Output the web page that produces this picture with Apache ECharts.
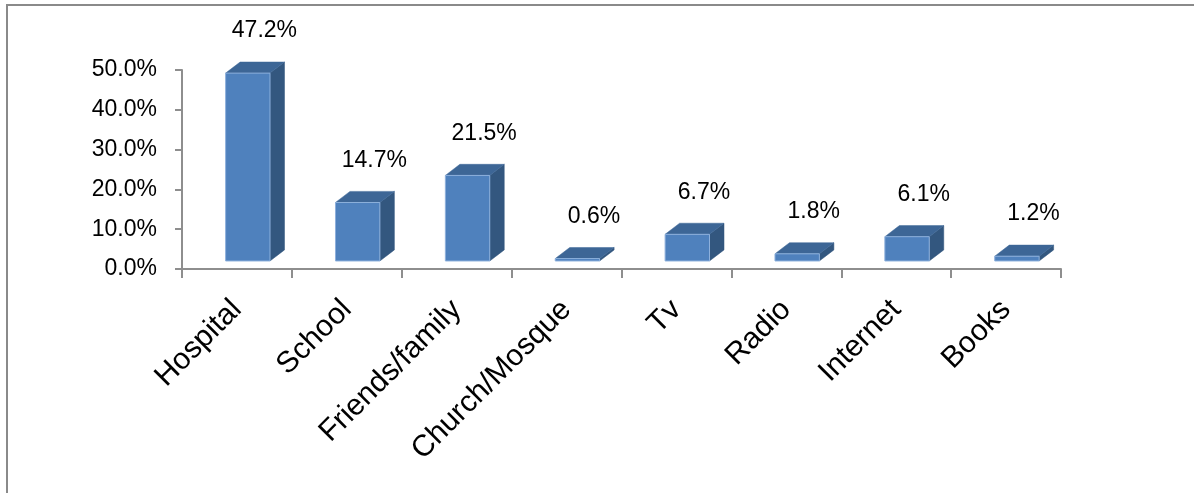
<!DOCTYPE html>
<html>
<head>
<meta charset="utf-8">
<script src="https://cdn.jsdelivr.net/npm/echarts@6/dist/echarts.min.js"></script>
<style>
  html, body { margin: 0; padding: 0; background: #ffffff; }
  #chart { width: 1194px; height: 493px; }
</style>
</head>
<body>
<div id="chart"></div>
<script>
// Sources of information (share of respondents, %)
const categories = ['Hospital', 'School', 'Friends/family', 'Church/Mosque', 'Tv', 'Radio', 'Internet', 'Books'];
const shares = [47.2, 14.7, 21.5, 0.6, 6.7, 1.8, 6.1, 1.2];

const FRONT = '#4F81BD';
const TOP = '#3D6696';
const SIDE = '#33577F';
const EDGE = '#8DB0DC';
const FONT = '"Liberation Sans", Arial, sans-serif';

const pct = v => v.toFixed(1) + '%';

// Draws one bar as a box: front face, top face and right side face,
// set back a little from the axis plane, plus its value label.
function renderBox(params, api) {
  const idx = api.value(0);
  const v = api.value(1);
  const base = api.coord([idx, 0]);
  const head = api.coord([idx, v]);
  const band = api.size([1, 0])[0];

  const fw = band * 0.404;
  const cx = base[0] + band * 0.099;
  const lift = band * 0.073;
  const dx = band * 0.132;
  const dy = band * 0.101;

  const x0 = cx - fw / 2;
  const x1 = cx + fw / 2;
  const yb = base[1] - lift;
  const yt = head[1] - lift;

  return {
    type: 'group',
    children: [
      {
        type: 'polygon',
        shape: { points: [[x1, yt], [x1 + dx, yt - dy], [x1 + dx, yb - dy], [x1, yb]] },
        style: { fill: SIDE, stroke: SIDE, lineWidth: 0.5 }
      },
      {
        type: 'polygon',
        shape: { points: [[x0, yt], [x1, yt], [x1 + dx, yt - dy], [x0 + dx, yt - dy]] },
        style: { fill: TOP, stroke: TOP, lineWidth: 0.5 }
      },
      {
        type: 'rect',
        shape: { x: x0, y: yt, width: fw, height: Math.max(yb - yt, 0.5) },
        style: { fill: FRONT, stroke: EDGE, lineWidth: 1 }
      },
      {
        type: 'text',
        style: {
          text: pct(v),
          x: base[0] + band * 0.25,
          y: yt - dy - 31,
          align: 'center',
          verticalAlign: 'middle',
          font: '23px ' + FONT,
          fill: '#000000'
        }
      }
    ]
  };
}

const chart = echarts.init(document.getElementById('chart'), null, { renderer: 'canvas' });

chart.setOption({
  backgroundColor: '#ffffff',
  animation: false,
  graphic: [
    {
      type: 'rect',
      shape: { x: 7, y: 5, width: 1220, height: 520 },
      style: { fill: 'none', stroke: '#8a8a8a', lineWidth: 2 },
      silent: true
    }
  ],
  grid: { left: 182, right: 133, top: 70, bottom: 224 },
  xAxis: {
    type: 'category',
    data: categories,
    boundaryGap: true,
    axisLine: { lineStyle: { color: '#8e8e8e', width: 2 } },
    axisTick: { show: true, length: 9, lineStyle: { color: '#8e8e8e', width: 2 } },
    axisLabel: {
      interval: 0,
      rotate: 45,
      margin: 36,
      color: '#000000',
      fontSize: 30,
      fontFamily: FONT
    }
  },
  yAxis: {
    type: 'value',
    min: 0,
    max: 50,
    interval: 10,
    splitLine: { show: false },
    axisLine: { show: true, lineStyle: { color: '#8e8e8e', width: 2 } },
    axisTick: { show: true, length: 7, lineStyle: { color: '#8e8e8e', width: 2 } },
    axisLabel: {
      margin: 25,
      color: '#000000',
      fontSize: 23,
      fontFamily: FONT,
      formatter: pct
    }
  },
  series: [
    {
      type: 'custom',
      clip: false,
      renderItem: renderBox,
      encode: { x: 0, y: 1 },
      data: shares.map((v, i) => [i, v])
    }
  ]
});
</script>
</body>
</html>
